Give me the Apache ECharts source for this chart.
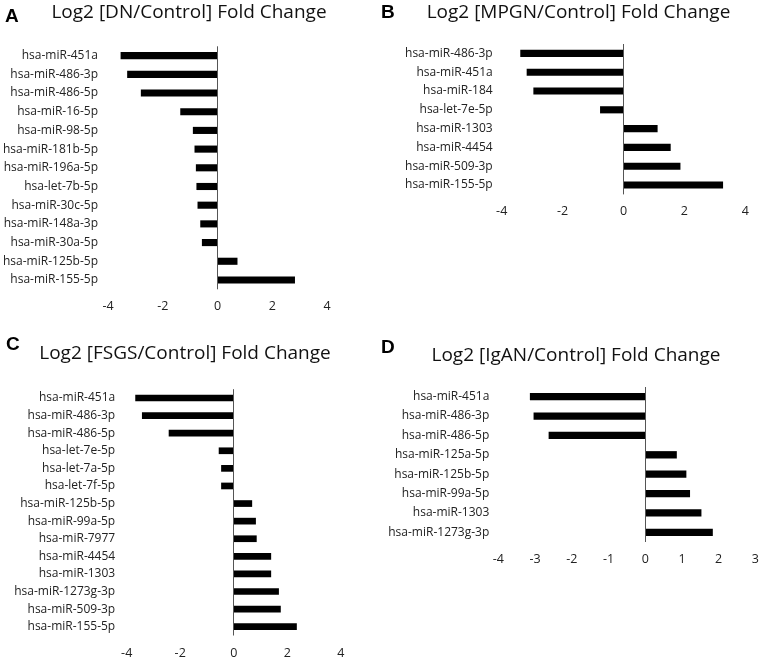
<!DOCTYPE html>
<html>
<head>
<meta charset="utf-8">
<script src="https://cdn.jsdelivr.net/npm/echarts@6/dist/echarts.min.js"></script>
<style>html,body{margin:0;padding:0;background:#fff}#c{width:762px;height:660px}</style>
</head>
<body>
<div id="c"></div>
<script>
var catsA = ['hsa-miR-451a','hsa-miR-486-3p','hsa-miR-486-5p','hsa-miR-16-5p','hsa-miR-98-5p','hsa-miR-181b-5p','hsa-miR-196a-5p','hsa-let-7b-5p','hsa-miR-30c-5p','hsa-miR-148a-3p','hsa-miR-30a-5p','hsa-miR-125b-5p','hsa-miR-155-5p'];
var valsA = [-3.54,-3.30,-2.80,-1.36,-0.90,-0.84,-0.79,-0.77,-0.73,-0.63,-0.57,0.73,2.83];
var ticksA = [-4,-2,0,2,4];

var catsB = ['hsa-miR-486-3p','hsa-miR-451a','hsa-miR-184','hsa-let-7e-5p','hsa-miR-1303','hsa-miR-4454','hsa-miR-509-3p','hsa-miR-155-5p'];
var valsB = [-3.39,-3.18,-2.96,-0.77,1.12,1.55,1.87,3.27];
var ticksB = [-4,-2,0,2,4];

var catsC = ['hsa-miR-451a','hsa-miR-486-3p','hsa-miR-486-5p','hsa-let-7e-5p','hsa-let-7a-5p','hsa-let-7f-5p','hsa-miR-125b-5p','hsa-miR-99a-5p','hsa-miR-7977','hsa-miR-4454','hsa-miR-1303','hsa-miR-1273g-3p','hsa-miR-509-3p','hsa-miR-155-5p'];
var valsC = [-3.68,-3.43,-2.43,-0.56,-0.47,-0.47,0.69,0.83,0.86,1.40,1.40,1.69,1.76,2.36];
var ticksC = [-4,-2,0,2,4];

var catsD = ['hsa-miR-451a','hsa-miR-486-3p','hsa-miR-486-5p','hsa-miR-125a-5p','hsa-miR-125b-5p','hsa-miR-99a-5p','hsa-miR-1303','hsa-miR-1273g-3p'];
var valsD = [-3.14,-3.04,-2.63,0.86,1.12,1.22,1.53,1.84];
var ticksD = [-4,-3,-2,-1,0,1,2,3];

var titles = ['Log2 [DN/Control] Fold Change','Log2 [MPGN/Control] Fold Change','Log2 [FSGS/Control] Fold Change','Log2 [IgAN/Control] Fold Change'];
var letters = ['A','B','C','D'];

var panels = [
  {cats: catsA, vals: valsA, ticks: ticksA, grid: {left:108, top:46.3, width:219, height:243}, tx:189, ty:3, lx:5, ly:7, lm:10},
  {cats: catsB, vals: valsB, ticks: ticksB, grid: {left:501.7, top:44, width:243.6, height:150.4}, tx:578.5, ty:3, lx:381, ly:3, lm:9},
  {cats: catsC, vals: valsC, ticks: ticksC, grid: {left:126.7, top:389.2, width:214, height:246.3}, tx:185, ty:344, lx:6, ly:335, lm:11.5},
  {cats: catsD, vals: valsD, ticks: ticksD, grid: {left:498.3, top:387, width:258.4, height:155}, tx:576, ty:346, lx:381, ly:338, lm:9}
];

var FONT = 'Open Sans';
var option = {animation:false, title:[], grid:[], xAxis:[], yAxis:[], series:[]};
panels.forEach(function(p, i){
  option.title.push({text: titles[i], left: p.tx, top: p.ty, textAlign:'center', padding:0,
    textStyle:{fontFamily:FONT, fontSize:19, fontWeight:'normal', color:'#111'}});
  option.title.push({text: letters[i], left: p.lx, top: p.ly, padding:0,
    textStyle:{fontFamily:'Liberation Sans', fontSize:19, fontWeight:'bold', color:'#000'}});
  option.grid.push(Object.assign({containLabel:false}, p.grid));
  option.xAxis.push({type:'value', gridIndex:i, min:p.ticks[0], max:p.ticks[p.ticks.length-1],
    interval:p.ticks[1]-p.ticks[0],
    axisLine:{show:false}, axisTick:{show:false}, splitLine:{show:false},
    axisLabel:{fontFamily:FONT, fontSize:12.5, color:'#222', margin:11}});
  option.yAxis.push({type:'category', gridIndex:i, data:p.cats, inverse:true,
    axisLine:{show:false}, axisTick:{show:false},
    axisLabel:{fontFamily:FONT, fontSize:12, color:'#222', margin:p.lm}});
  option.series.push({type:'bar', xAxisIndex:i, yAxisIndex:i, data:p.vals, barWidth:'38%',
    itemStyle:{color:'#000'},
    markLine:{silent:true, symbol:'none', label:{show:false},
      lineStyle:{color:'#555', width:1, type:'solid'}, data:[{xAxis:0}]}});
});
var chart = echarts.init(document.getElementById('c'), null, {renderer:'canvas'});
chart.setOption(option);
</script>
</body>
</html>
